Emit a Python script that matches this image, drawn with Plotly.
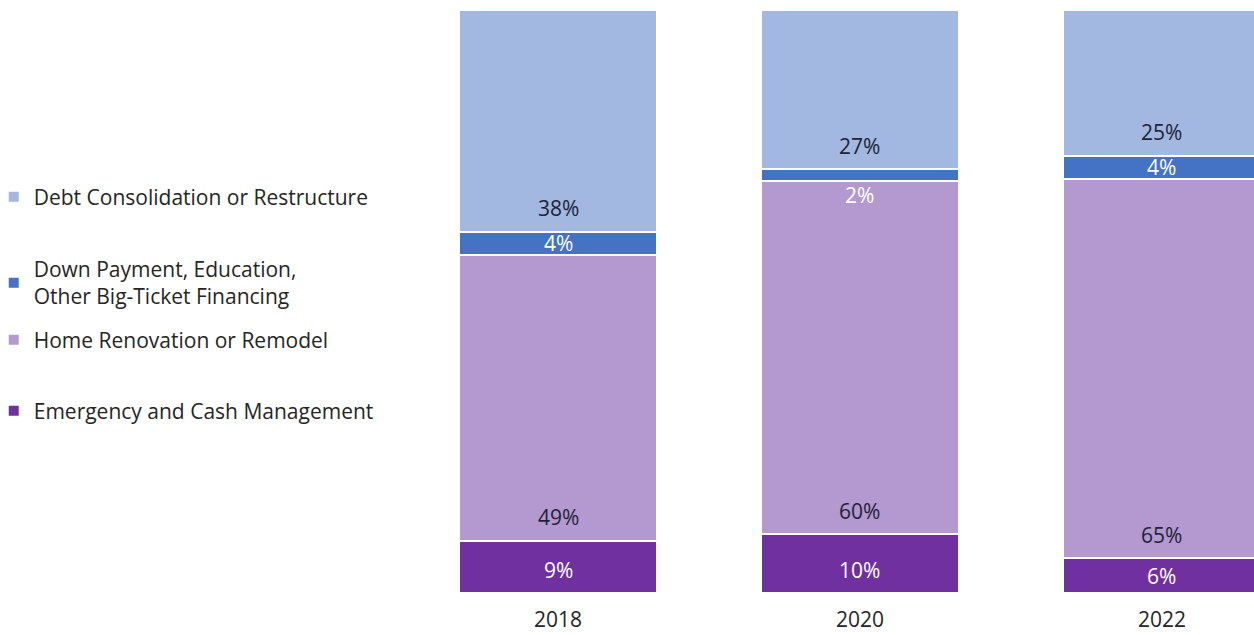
import plotly.graph_objects as go

years = ["2018", "2020", "2022"]
series_names = [
    "Emergency and Cash Management",
    "Home Renovation or Remodel",
    "Down Payment, Education,<br>Other Big-Ticket Financing",
    "Debt Consolidation or Restructure",
]
emergency = [9, 10, 6]
home = [49, 60, 65]
down = [4, 2, 4]
debt = [38, 27, 25]
values = [emergency, home, down, debt]

colors = ["#7030A0", "#B498D0", "#4472C4", "#A2B8E0"]
label_colors = ["#FFFFFF", "#1E2338", "#FFFFFF", "#1E2338"]
legend_ids = ["legend4", "legend3", "legend2", "legend"]
legend_y = [0.312, 0.434, 0.532, 0.679]

FONT = "Open Sans, Calibri, Carlito, sans-serif"
FS = 21

fig = go.Figure()
for name, vals, col, lid in zip(series_names, values, colors, legend_ids):
    fig.add_trace(go.Bar(
        x=years, y=vals, name=name, legend=lid,
        marker=dict(color=col, line=dict(color="white", width=2)),
        hoverinfo="skip",
    ))

# labels near the base of each segment (Excel "inside base")
annotations = []
for j, yr in enumerate(years):
    total = sum(v[j] for v in values)
    base = 0.0
    for i, vals in enumerate(values):
        seg = vals[j] / total * 100
        if seg >= 8.2:
            ypos = base + 4.0
        elif seg >= 3:
            ypos = base + seg / 2
        else:
            ypos = base - 2.4
        annotations.append(dict(
            x=j, y=ypos, xref="x", yref="y", text=f"{vals[j]}%",
            showarrow=False, yanchor="middle", xanchor="center",
            font=dict(family=FONT, size=FS, color=label_colors[i]),
        ))
        base += seg

layout_legends = {}
for lid, ly in zip(legend_ids, legend_y):
    layout_legends[lid] = dict(
        x=-0.005, xanchor="left", y=ly, yanchor="middle",
        font=dict(family=FONT, size=FS, color="#262626"),
        bgcolor="rgba(0,0,0,0)", itemclick=False, itemdoubleclick=False,
    )

fig.update_layout(
    width=1254, height=635,
    margin=dict(l=0, r=0, t=10, b=42, autoexpand=False),
    barmode="stack", barnorm="percent", bargap=0.344,
    plot_bgcolor="white", paper_bgcolor="white",
    showlegend=True,
    annotations=annotations,
    xaxis=dict(
        type="category", domain=[0.3246, 1], range=[-0.5, 2.305],
        showgrid=False, showline=False, ticks="", ticklabelstandoff=12,
        automargin=False,
        tickfont=dict(family=FONT, size=FS, color="#262626"),
    ),
    yaxis=dict(range=[0, 100], visible=False, fixedrange=True),
    **layout_legends,
)

fig.write_html(
    "out.html",
    config={"displayModeBar": False},
    post_script="document.body.style.margin='0';document.body.style.overflow='hidden';",
)
